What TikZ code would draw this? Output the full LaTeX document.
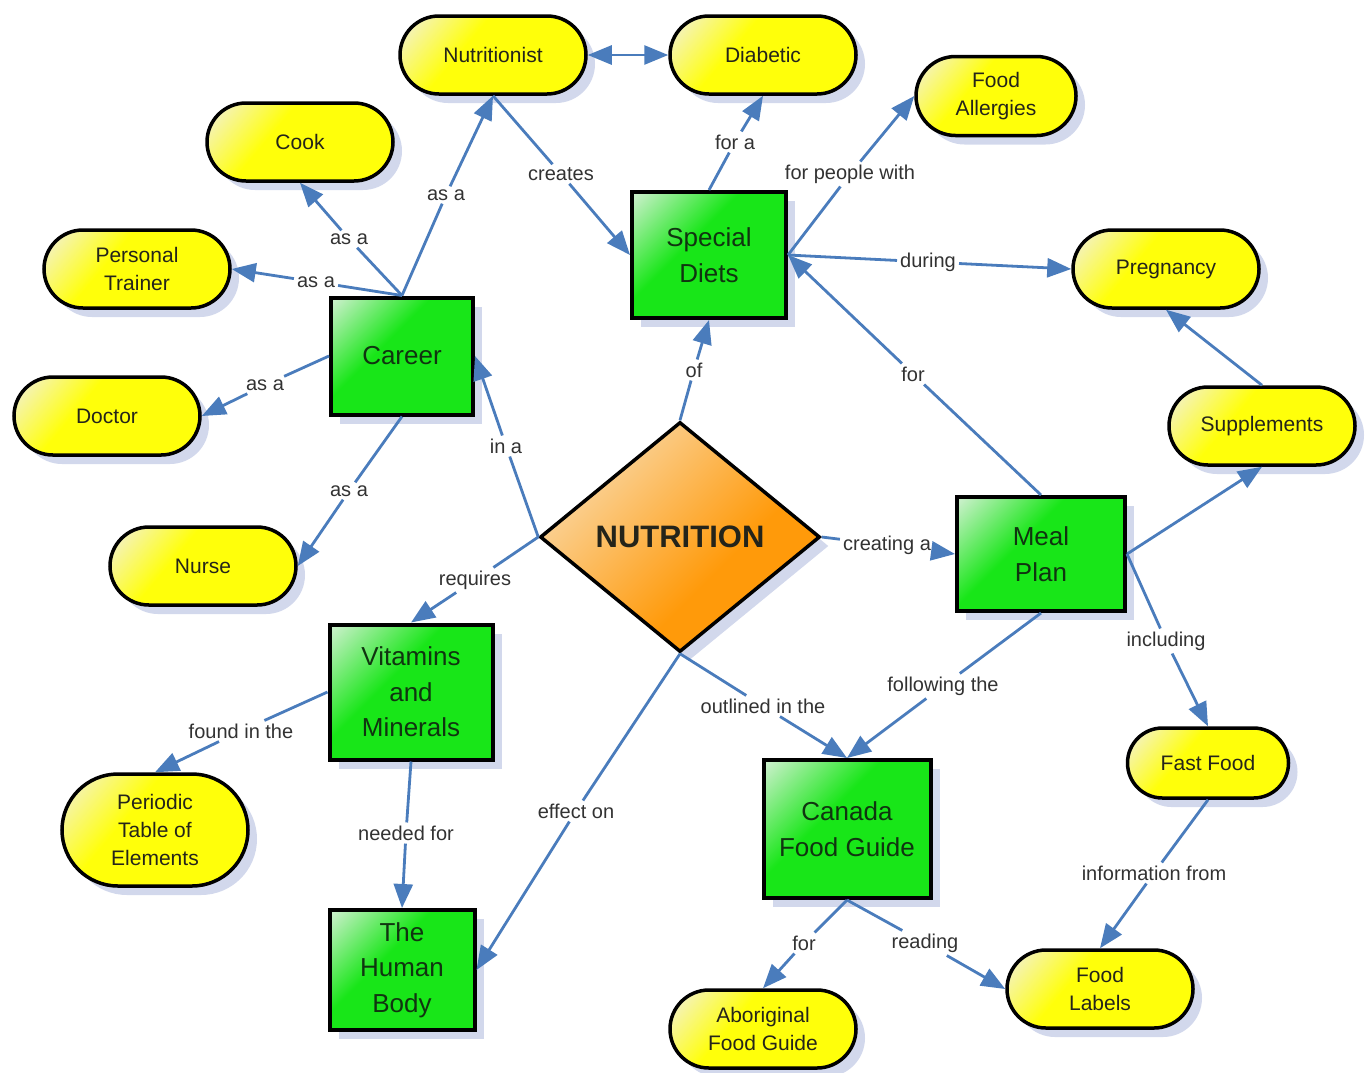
\documentclass[tikz,border=0pt]{standalone}
\usepackage{fontspec}
\setmainfont{Liberation Sans}
\usetikzlibrary{shapes.geometric,shapes.misc,arrows.meta,shadows}

\definecolor{linkblue}{RGB}{74,124,188}
\definecolor{shadowc}{RGB}{210,216,236}
\definecolor{yelpale}{RGB}{244,242,200}
\definecolor{yelfull}{RGB}{255,255,10}
\definecolor{grnpale}{RGB}{200,240,200}
\definecolor{grnfull}{RGB}{24,230,24}
\definecolor{orgpale}{RGB}{250,216,166}
\definecolor{orgfull}{RGB}{255,154,10}
\definecolor{txtdark}{RGB}{36,36,26}
\definecolor{txtgreen}{RGB}{16,52,16}
\definecolor{lblgray}{RGB}{50,50,50}

% fills: pale corner at the upper left, full colour elsewhere
\pgfdeclarehorizontalshading{yelshade}{100bp}{color(0bp)=(yelpale); color(18bp)=(yelpale); color(40bp)=(yelfull); color(100bp)=(yelfull)}
\pgfdeclarehorizontalshading{grnshade}{100bp}{color(0bp)=(grnpale); color(16bp)=(grnpale); color(42bp)=(grnfull); color(100bp)=(grnfull)}
\pgfdeclarehorizontalshading{orgshade}{100bp}{color(0bp)=(orgpale); color(25bp)=(orgpale); color(60bp)=(orgfull); color(100bp)=(orgfull)}

\begin{document}
\begin{tikzpicture}[x=1pt,y=-1pt,
  shade/.style={drop shadow={shadow xshift=9pt,shadow yshift=-9pt,fill=shadowc,opacity=1}},
  concept/.style={rounded rectangle, draw=black, line width=3.5pt,
    shading=yelshade, shading angle=-40,
    shade, text=txtdark, align=center, inner sep=2pt,
    font=\fontsize{21}{28}\selectfont,
    minimum width=190pt, minimum height=78pt},
  topic/.style={rectangle, draw=black, line width=4pt,
    shading=grnshade, shading angle=-45,
    shade, text=txtgreen, align=center, inner sep=2pt,
    font=\fontsize{26}{35.5}\selectfont},
  hub/.style={diamond, draw=black, line width=3.5pt, inner sep=0pt,
    shading=orgshade, shading angle=-45,
    shade, text=txtdark, font=\bfseries\fontsize{31}{36}\selectfont,
    minimum width=280pt, minimum height=230pt},
  lbl/.style={text=lblgray, inner sep=3pt, font=\fontsize{20}{24}\selectfont},
  conn/.style={draw=linkblue, line width=2.8pt},
  tip/.tip={Triangle[length=24pt,width=19pt]},
  arr/.style={conn, -tip}
]
\useasboundingbox (0,0) rectangle (1367,1072);

% ---- central concept ----
\node[hub] (nutrition) at (680,537) {NUTRITION};

% ---- main topics ----
\node[topic, minimum width=154pt, minimum height=126pt] (special)  at (709,255) {Special\\Diets};
\node[topic, minimum width=142pt, minimum height=117pt] (career)   at (402,356) {Career};
\node[topic, minimum width=168pt, minimum height=114pt] (meal)     at (1041,554) {Meal\\Plan};
\node[topic, minimum width=163pt, minimum height=135pt] (vitamins) at (411,692) {Vitamins\\and\\Minerals};
\node[topic, minimum width=145pt, minimum height=120pt] (body)     at (402,970) {The\\Human\\Body};
\node[topic, minimum width=167pt, minimum height=138pt] (canada)   at (847,829) {Canada\\Food Guide};

% ---- leaf concepts ----
\node[concept] (nutritionist) at (493,55) {Nutritionist};
\node[concept] (diabetic)     at (763,55) {Diabetic};
\node[concept, minimum width=164pt, minimum height=79pt] (allergies) at (996,96) {Food\\Allergies};
\node[concept] (cook)         at (300,142) {Cook};
\node[concept] (trainer)      at (137,269) {Personal\\Trainer};
\node[concept] (doctor)       at (107,416) {Doctor};
\node[concept] (nurse)        at (203,566) {Nurse};
\node[concept, minimum height=112pt] (periodic) at (155,830) {Periodic\\Table of\\Elements};
\node[concept] (pregnancy)    at (1166,269) {Pregnancy};
\node[concept] (supplements)  at (1262,426) {Supplements};
\node[concept, minimum width=165pt, minimum height=70pt] (fastfood) at (1208,763) {Fast Food};
\node[concept] (labels)       at (1100,989) {Food\\Labels};
\node[concept] (aboriginal)   at (763,1029) {Aboriginal\\Food Guide};

% ---- linking phrases ----
\node[lbl] (l1)  at (446,195) {as a};
\node[lbl] (l2)  at (349,239) {as a};
\node[lbl] (l3)  at (316,282) {as a};
\node[lbl] (l4)  at (265,385) {as a};
\node[lbl] (l5)  at (349,491) {as a};
\node[lbl] (l6)  at (506,446) {in a};
\node[lbl] (l7)  at (694,370) {of};
\node[lbl] (l8)  at (561,174) {creates};
\node[lbl] (l9)  at (735,142) {for a};
\node[lbl] (l10) at (850,174) {for people with};
\node[lbl] (l11) at (928,262) {during};
\node[lbl] (l12) at (913,374) {for};
\node[lbl] (l13) at (887,545) {creating a};
\node[lbl] (l14) at (1166,641) {including};
\node[lbl] (l15) at (943,686) {following the};
\node[lbl] (l16) at (763,706) {outlined in the};
\node[lbl] (l17) at (475,580) {requires};
\node[lbl] (l18) at (241,731) {found in the};
\node[lbl] (l19) at (406,833) {needed for};
\node[lbl] (l20) at (576,811) {effect on};
\node[lbl] (l21) at (1154,873) {information from};
\node[lbl] (l22) at (804,943) {for};
\node[lbl] (l23) at (925,943) {reading};

% ---- connectors ----
\draw[conn] (career.north) -- (l1);  \draw[arr] (l1) -- (nutritionist.south);
\draw[conn] (career.north) -- (l2);  \draw[arr] (l2) -- (cook.south);
\draw[conn] (career.north) -- (l3);  \draw[arr] (l3) -- (trainer.east);
\draw[conn] (career.west) -- (l4);   \draw[arr] (l4) -- (doctor.east);
\draw[conn] (career.south) -- (l5);  \draw[arr] (l5) -- (nurse.east);
\draw[conn] (nutrition.west) -- (l6); \draw[arr] (l6) -- (career.east);
\draw[conn] (nutrition.north) -- (l7); \draw[arr] (l7) -- (special.south);
\draw[conn, tip-tip] (nutritionist.east) -- (diabetic.west);
\draw[conn] (nutritionist.south) -- (l8); \draw[arr] (l8) -- (special.west);
\draw[conn] (special.north) -- (l9); \draw[arr] (l9) -- (diabetic.south);
\draw[conn] (special.east) -- (l10); \draw[arr] (l10) -- (allergies.west);
\draw[conn] (special.east) -- (l11); \draw[arr] (l11) -- (pregnancy.west);
\draw[conn] (meal.north) -- (l12);   \draw[arr] (l12) -- (special.east);
\draw[conn] (nutrition.east) -- (l13); \draw[arr] (l13) -- (meal.west);
\draw[arr] (meal.east) -- (supplements.south);
\draw[arr] (supplements.north) -- (pregnancy.south);
\draw[conn] (meal.east) -- (l14);    \draw[arr] (l14) -- (fastfood.north);
\draw[conn] (meal.south) -- (l15);   \draw[arr] (l15) -- (canada.north);
\draw[conn] (nutrition.south) -- (l16); \draw[arr] (l16) -- (canada.north);
\draw[conn] (nutrition.west) -- (l17); \draw[arr] (l17) -- (vitamins.north);
\draw[conn] (vitamins.west) -- (l18); \draw[arr] (l18) -- (periodic.north);
\draw[conn] (vitamins.south) -- (l19); \draw[arr] (l19) -- (body.north);
\draw[conn] (nutrition.south) -- (l20); \draw[arr] (l20) -- (body.east);
\draw[conn] (fastfood.south) -- (l21); \draw[arr] (l21) -- (labels.north);
\draw[conn] (canada.south) -- (l22); \draw[arr] (l22) -- (aboriginal.north);
\draw[conn] (canada.south) -- (l23); \draw[arr] (l23) -- (labels.west);
\end{tikzpicture}
\end{document}
